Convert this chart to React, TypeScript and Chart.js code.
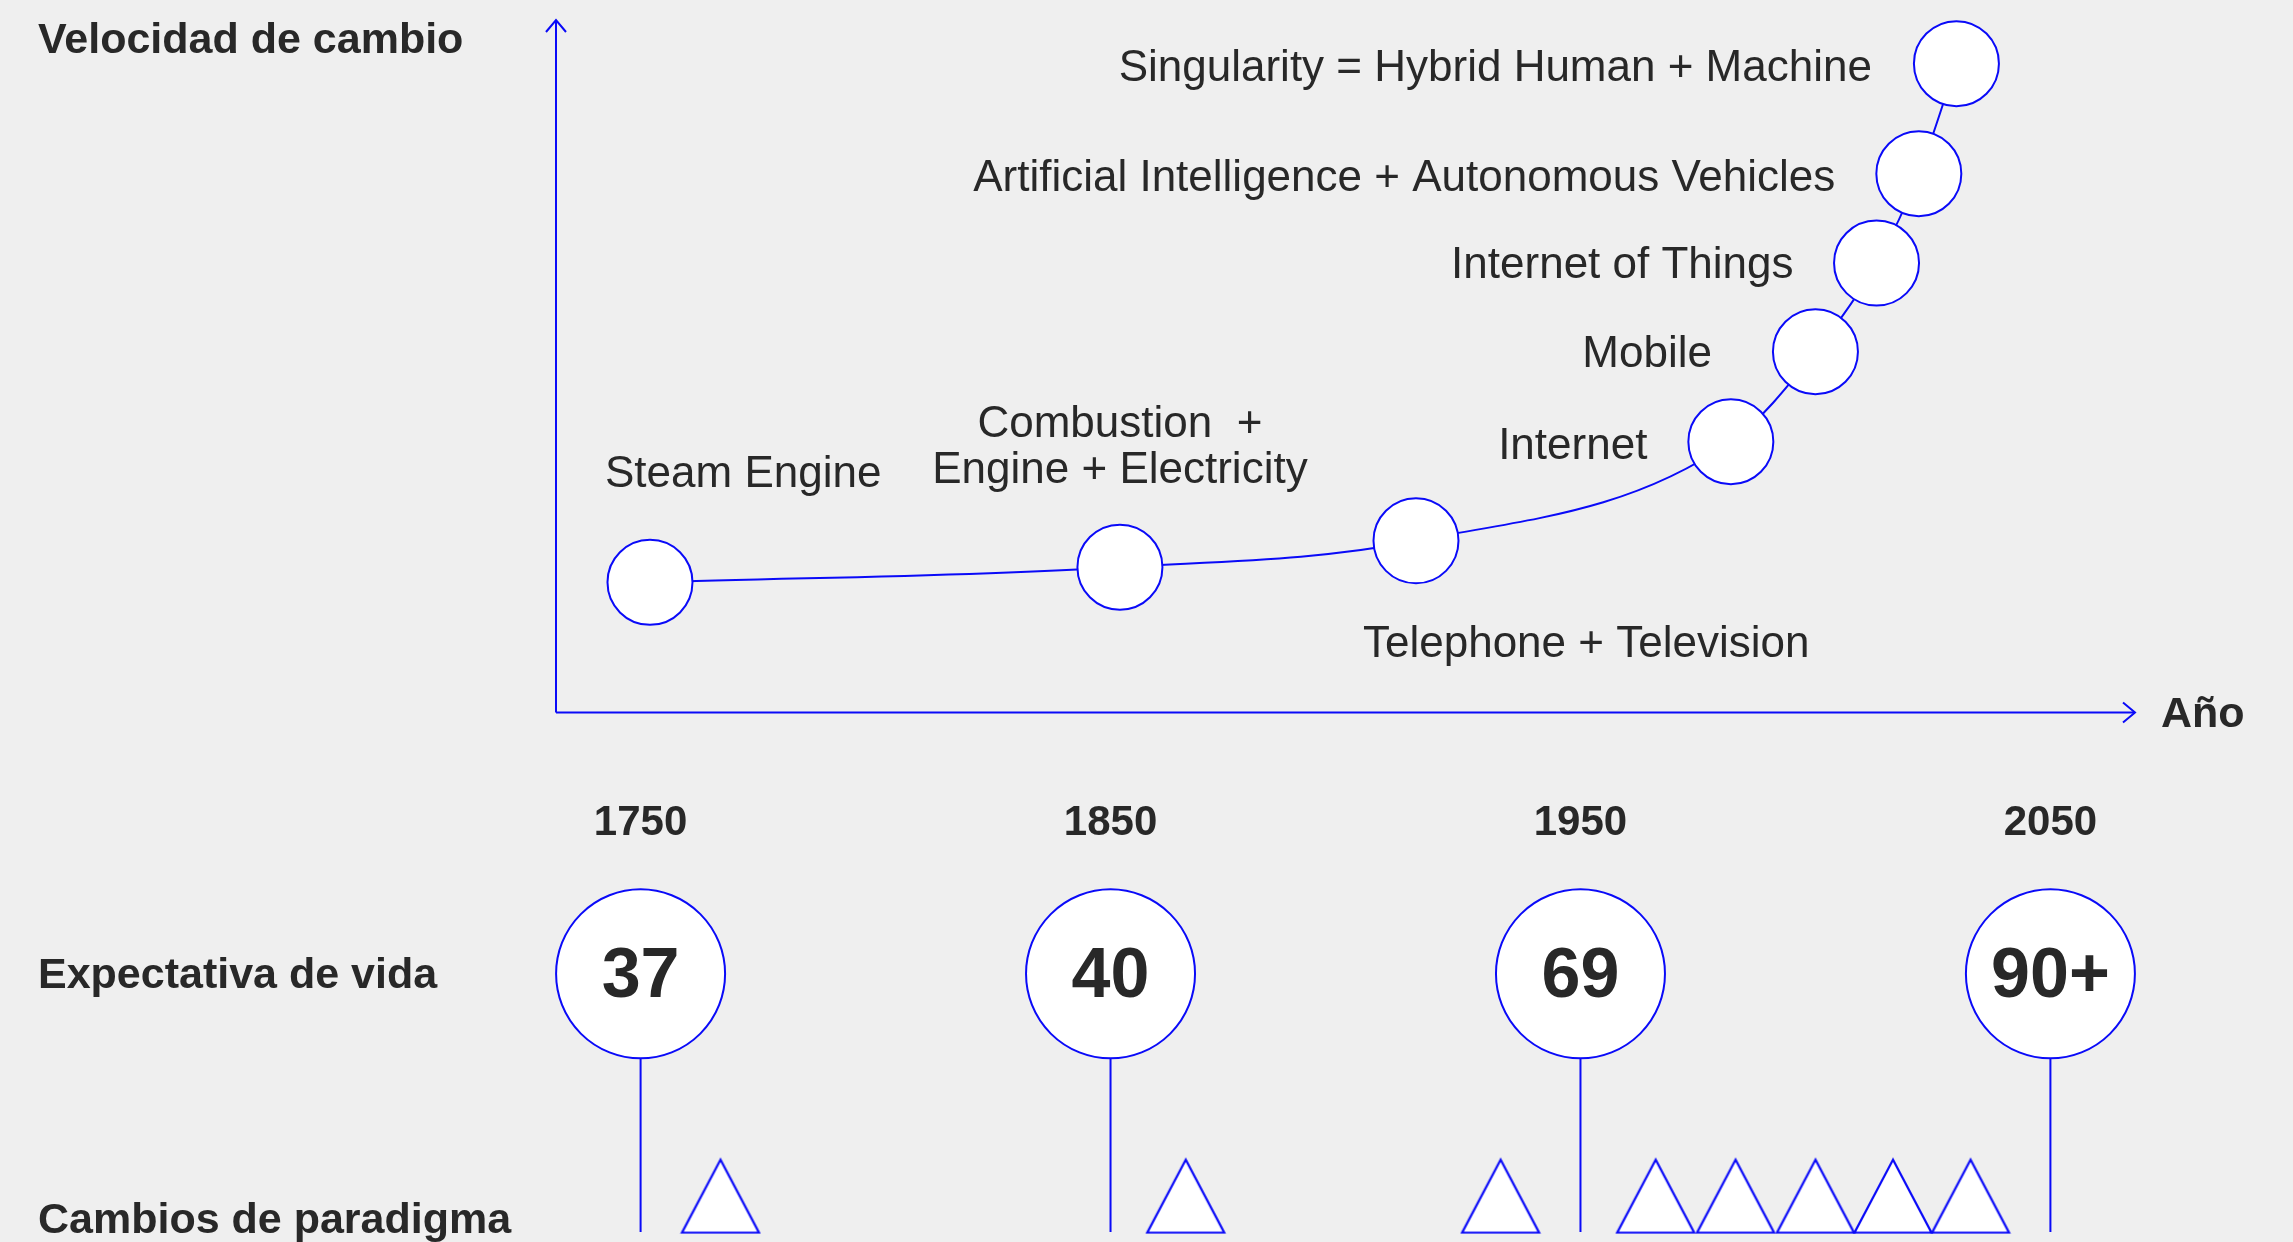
import React, { useEffect, useRef } from 'react';
import { Chart, registerables } from 'chart.js';

Chart.register(...registerables);

// ---------------- data ----------------
const INNOVATION_LABELS = [
  'Steam Engine',
  'Combustion  +\nEngine + Electricity',
  'Telephone + Television',
  'Internet',
  'Mobile',
  'Internet of Things',
  'Artificial Intelligence + Autonomous Vehicles',
  'Singularity = Hybrid Human + Machine',
];
const INNOVATION_YEARS = [1752, 1852, 1915, 1982, 2000, 2013, 2022, 2030];
const CHANGE_SPEED = [18.8, 21.0, 24.8, 39.1, 52.1, 64.9, 77.8, 93.7];

const MILESTONE_YEARS = [1750, 1850, 1950, 2050];
const LIFE_EXPECTANCY = ['37', '40', '69', '90+'];

const PARADIGM_SHIFT_YEARS = [1767, 1866, 1933, 1966, 1983, 2000, 2016.5, 2033];

const Y_AXIS_TITLE = 'Velocidad de cambio';
const X_AXIS_TITLE = 'Año';
const LIFE_ROW_TITLE = 'Expectativa de vida';
const SHIFT_ROW_TITLE = 'Cambios de paradigma';

// ---------------- layout / style ----------------
const W = 2293;
const H = 1242;
const BLUE = 'rgb(10,10,248)';
const INK = '#282828';
const BG = '#efefef';
const SANS = '"Liberation Sans", Arial, sans-serif';

const X_MIN = 1732;
const X_MAX = 2068;
const V_MIN = -75;
const V_MAX = 100;
const LIFE_ROW = 21.3; // position on the hidden "band" axis (0..100)
const SHIFT_ROW = 3;

type LabelLayout = { align: CanvasTextAlign; dx: number; dy: number };
const LABEL_LAYOUT: LabelLayout[] = [
  { align: 'left', dx: -45, dy: -95.5 },
  { align: 'center', dx: 0, dy: -130 },
  { align: 'left', dx: -53, dy: 116 },
  { align: 'right', dx: -83.5, dy: 17 },
  { align: 'right', dx: -103.5, dy: 15 },
  { align: 'right', dx: -83, dy: 15 },
  { align: 'right', dx: -83.5, dy: 17 },
  { align: 'right', dx: -84.5, dy: 17.5 },
];

function makeTriangle(): HTMLCanvasElement {
  const c = document.createElement('canvas');
  c.width = 82;
  c.height = 77;
  const g = c.getContext('2d')!;
  g.beginPath();
  g.moveTo(41, 2.5);
  g.lineTo(79.5, 75.5);
  g.lineTo(2.5, 75.5);
  g.closePath();
  g.fillStyle = '#ffffff';
  g.fill();
  g.lineWidth = 2.2;
  g.strokeStyle = BLUE;
  g.lineJoin = 'miter';
  g.stroke();
  return c;
}

const backgroundPlugin = {
  id: 'bg',
  beforeDraw(chart: any) {
    const { ctx } = chart;
    ctx.save();
    ctx.fillStyle = BG;
    ctx.fillRect(0, 0, chart.width, chart.height);
    ctx.restore();
  },
};

const axesPlugin = {
  id: 'arrowAxes',
  beforeDatasetsDraw(chart: any) {
    const { ctx, chartArea } = chart;
    const yScale = chart.scales.y;
    const y0 = yScale.getPixelForValue(0);
    const x0 = chartArea.left;
    const top = chartArea.top;
    const right = chartArea.right;
    ctx.save();
    ctx.strokeStyle = BLUE;
    ctx.lineWidth = 2;
    ctx.lineCap = 'butt';
    ctx.beginPath();
    ctx.moveTo(x0, y0);
    ctx.lineTo(x0, top);
    ctx.moveTo(x0, y0);
    ctx.lineTo(right, y0);
    ctx.stroke();
    ctx.beginPath();
    ctx.moveTo(x0 - 10, top + 12);
    ctx.lineTo(x0, top);
    ctx.lineTo(x0 + 10, top + 12);
    ctx.moveTo(right - 12, y0 - 10);
    ctx.lineTo(right, y0);
    ctx.lineTo(right - 12, y0 + 10);
    ctx.stroke();

    ctx.fillStyle = INK;
    ctx.font = `bold 43px ${SANS}`;
    ctx.textAlign = 'left';
    ctx.textBaseline = 'alphabetic';
    ctx.fillText(X_AXIS_TITLE, right + 26, y0 + 14);
    ctx.fillText(Y_AXIS_TITLE, 38, top + 33);
    ctx.restore();
  },
};

const textPlugin = {
  id: 'texts',
  afterDatasetsDraw(chart: any) {
    const { ctx, chartArea } = chart;
    ctx.save();
    ctx.fillStyle = INK;
    ctx.textBaseline = 'alphabetic';

    // innovation labels
    const lineMeta = chart.getDatasetMeta(0);
    ctx.font = `44px ${SANS}`;
    lineMeta.data.forEach((el: any, i: number) => {
      const lay = LABEL_LAYOUT[i];
      ctx.textAlign = lay.align;
      const lines = INNOVATION_LABELS[i].split('\n');
      lines.forEach((t, k) => {
        ctx.fillText(t, el.x + lay.dx, el.y + lay.dy + k * 46);
      });
    });

    // life expectancy numbers + year labels
    const lifeMeta = chart.getDatasetMeta(1);
    lifeMeta.data.forEach((el: any, i: number) => {
      ctx.textAlign = 'center';
      ctx.font = `bold 70px ${SANS}`;
      ctx.fillText(LIFE_EXPECTANCY[i], el.x, el.y + 23);
      ctx.font = `bold 42px ${SANS}`;
      ctx.fillText(String(MILESTONE_YEARS[i]), el.x, el.y - 139);
    });

    // row titles
    ctx.textAlign = 'left';
    ctx.font = `bold 43px ${SANS}`;
    const lifeY = chart.scales.band.getPixelForValue(LIFE_ROW);
    ctx.fillText(LIFE_ROW_TITLE, 38, lifeY + 14);
    ctx.fillText(SHIFT_ROW_TITLE, 38, chartArea.bottom + 1);
    ctx.restore();
  },
};

export default function App() {
  const ref = useRef<HTMLCanvasElement>(null);

  useEffect(() => {
    document.body.style.margin = '0';
    document.body.style.background = BG;
    const canvas = ref.current!;
    const triangle = makeTriangle();

    const stemData: any[] = [];
    MILESTONE_YEARS.forEach((yr) => {
      stemData.push({ x: yr, y: 0 }, { x: yr, y: LIFE_ROW }, { x: yr, y: null });
    });

    const chart = new Chart(canvas, {
      type: 'line',
      data: {
        datasets: [
          {
            label: Y_AXIS_TITLE,
            data: INNOVATION_YEARS.map((x, i) => ({ x, y: CHANGE_SPEED[i] })),
            yAxisID: 'y',
            borderColor: BLUE,
            borderWidth: 2,
            cubicInterpolationMode: 'monotone',
            pointStyle: 'circle',
            pointRadius: 42.5,
            pointBorderWidth: 2,
            pointBackgroundColor: '#ffffff',
            pointBorderColor: BLUE,
            clip: false,
            order: 2,
          } as any,
          {
            label: LIFE_ROW_TITLE,
            data: MILESTONE_YEARS.map((x) => ({ x, y: LIFE_ROW })),
            yAxisID: 'band',
            showLine: false,
            pointStyle: 'circle',
            pointRadius: 84.5,
            pointBorderWidth: 2,
            pointBackgroundColor: '#ffffff',
            pointBorderColor: BLUE,
            clip: false,
            order: 1,
          } as any,
          {
            label: 'stems',
            data: stemData,
            yAxisID: 'band',
            borderColor: BLUE,
            borderWidth: 2,
            pointRadius: 0,
            spanGaps: false,
            tension: 0,
            clip: false,
            order: 3,
          } as any,
          {
            label: SHIFT_ROW_TITLE,
            data: PARADIGM_SHIFT_YEARS.map((x) => ({ x, y: SHIFT_ROW })),
            yAxisID: 'band',
            showLine: false,
            pointStyle: triangle,
            pointRadius: 40,
            clip: false,
            order: 0,
          } as any,
        ],
      },
      options: {
        responsive: false,
        maintainAspectRatio: false,
        devicePixelRatio: 1,
        animation: false,
        events: [],
        layout: { autoPadding: false, padding: { left: 556, right: W - 2135, top: 20, bottom: H - 1232 } },
        plugins: { legend: { display: false }, tooltip: { enabled: false } },
        scales: {
          x: { type: 'linear', min: X_MIN, max: X_MAX, display: false },
          y: { type: 'linear', min: V_MIN, max: V_MAX, display: false },
          band: { type: 'linear', min: 0, max: 100, display: false },
        },
      },
      plugins: [backgroundPlugin, axesPlugin, textPlugin],
    } as any);

    return () => chart.destroy();
  }, []);

  return (
    <div style={{ position: 'absolute', left: 0, top: 0, width: W, height: H, background: BG }}>
      <canvas ref={ref} width={W} height={H} style={{ display: 'block', width: W, height: H }} />
    </div>
  );
}
